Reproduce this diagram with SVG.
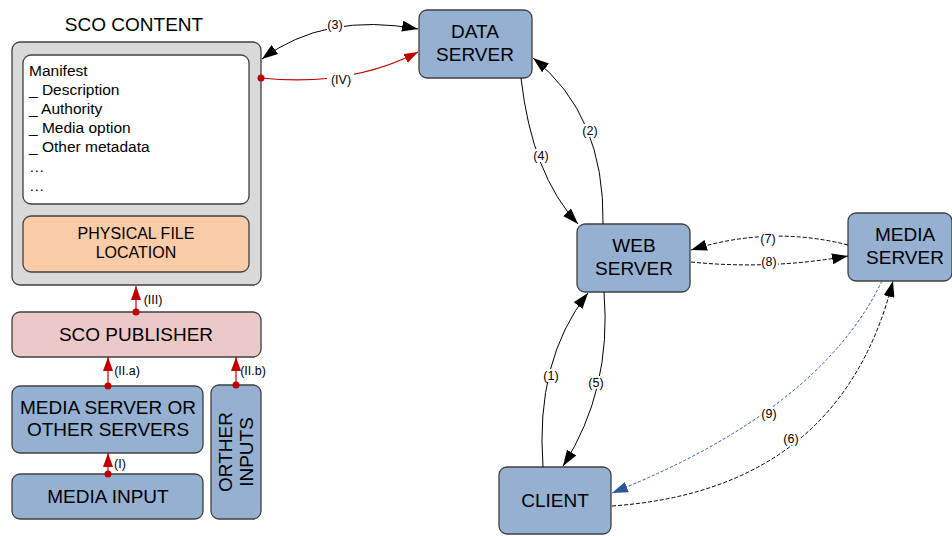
<svg xmlns="http://www.w3.org/2000/svg" width="952" height="536" viewBox="0 0 952 536">
<style>
text{font-family:"Liberation Sans",Arial,sans-serif;fill:#000}
.node{fill:#95b0d0;stroke:#404040;stroke-width:1.3}
.t18{font-size:19px;text-anchor:middle}
.t14{font-size:15.5px}
.lbl{font-size:12.5px;text-anchor:middle}
.c{fill:none;stroke:#000;stroke-width:1}
.d{stroke-dasharray:4 2}
.red{fill:none;stroke:#c00000;stroke-width:1.2}
.blue{fill:none;stroke:#2f5597;stroke-width:1;stroke-dasharray:3 2}
.bg{fill:#fff}
</style>
<defs>
<marker id="ab2" viewBox="0 0 10 10" refX="10" refY="5" markerWidth="16" markerHeight="11" markerUnits="userSpaceOnUse" orient="auto-start-reverse" preserveAspectRatio="none"><path d="M0,0 L10,5 L0,10 z" fill="#000"/></marker>
<marker id="ar" viewBox="0 0 10 10" refX="10" refY="5" markerWidth="14" markerHeight="10" markerUnits="userSpaceOnUse" orient="auto" preserveAspectRatio="none"><path d="M0,0 L10,5 L0,10 z" fill="#c00000"/></marker>
<marker id="abl" viewBox="0 0 10 10" refX="10" refY="5" markerWidth="16" markerHeight="11" markerUnits="userSpaceOnUse" orient="auto" preserveAspectRatio="none"><path d="M0,0 L10,5 L0,10 z" fill="#2f5597"/></marker>
</defs>

<g id="sco-content">
<text x="134" y="31" class="t18">SCO CONTENT</text>
<rect x="12" y="42" width="249" height="243" rx="8" fill="#d9d9d9" stroke="#404040" stroke-width="1.3"/>
<rect x="23" y="55" width="226" height="149" rx="8" fill="#fff" stroke="#404040" stroke-width="1.3"/>
<text class="t14" x="29" y="76">Manifest</text>
<text class="t14" x="29" y="95">_ Description</text>
<text class="t14" x="29" y="114">_ Authority</text>
<text class="t14" x="29" y="133">_ Media option</text>
<text class="t14" x="29" y="152">_ Other metadata</text>
<text class="t14" x="29" y="172">…</text>
<text class="t14" x="29" y="191">…</text>
</g>
<g id="physical-file">
<rect x="23" y="216" width="226" height="56" rx="8" fill="#f9cba7" stroke="#404040" stroke-width="1.3"/>
<text x="136" y="239" class="t18" style="font-size:16px">PHYSICAL FILE</text>
<text x="136" y="258" class="t18" style="font-size:16px">LOCATION</text>
</g>
<g id="sco-publisher">
<rect x="12" y="312" width="249" height="45" rx="8" fill="#ecc9c9" stroke="#404040" stroke-width="1.3"/>
<text x="136" y="341" class="t18">SCO PUBLISHER</text>
</g>
<g id="media-server-or-other">
<rect x="12" y="386" width="191" height="67" rx="8" class="node"/>
<text x="108" y="414" class="t18">MEDIA SERVER OR</text>
<text x="108" y="436" class="t18">OTHER SERVERS</text>
</g>
<g id="media-input">
<rect x="12" y="474" width="191" height="45" rx="8" class="node"/>
<text x="108" y="503" class="t18">MEDIA INPUT</text>
</g>
<g id="orther-inputs">
<rect x="211" y="385" width="50" height="134" rx="8" class="node"/>
<g transform="translate(236,452) rotate(-90)">
<text x="0" y="-4" class="t18">ORTHER</text>
<text x="0" y="17" class="t18">INPUTS</text>
</g>
</g>
<g id="data-server">
<rect x="419" y="10" width="113" height="68" rx="8" class="node"/>
<text x="475" y="38" class="t18">DATA</text>
<text x="475" y="61" class="t18">SERVER</text>
</g>
<g id="web-server">
<rect x="577" y="224" width="113" height="68" rx="8" class="node"/>
<text x="634" y="252" class="t18">WEB</text>
<text x="634" y="275" class="t18">SERVER</text>
</g>
<g id="media-server">
<rect x="848" y="213" width="104" height="68" rx="8" class="node"/>
<text x="905" y="241" class="t18">MEDIA</text>
<text x="905" y="264" class="t18">SERVER</text>
</g>
<g id="client">
<rect x="499" y="467" width="112" height="67" rx="8" class="node"/>
<text x="555" y="507" class="t18">CLIENT</text>
</g>

<g id="connectors">
<path class="red" d="M136,312 V286" marker-end="url(#ar)"/>
<circle cx="136" cy="312" r="3.5" fill="#c00000"/>
<text x="153" y="304" class="lbl">(III)</text>
<path class="red" d="M108,386 V357" marker-end="url(#ar)"/>
<circle cx="108" cy="386" r="3.5" fill="#c00000"/>
<text x="127" y="375" class="lbl">(II.a)</text>
<path class="red" d="M236,385 V357" marker-end="url(#ar)"/>
<circle cx="236" cy="385" r="3.5" fill="#c00000"/>
<text x="253" y="375" class="lbl">(II.b)</text>
<path class="red" d="M108,474 V453" marker-end="url(#ar)"/>
<circle cx="108" cy="474" r="3.5" fill="#c00000"/>
<text x="120" y="468" class="lbl">(I)</text>
<path class="red" d="M261,78 C300,82 360,82 418,52" marker-end="url(#ar)"/>
<circle cx="261" cy="78" r="3.5" fill="#c00000"/>
<rect x="327" y="73" width="27" height="13" class="bg"/>
<text x="341" y="84" class="lbl">(IV)</text>
<path class="c" d="M262,59 Q325,12 418,29" marker-start="url(#ab2)" marker-end="url(#ab2)"/>
<rect x="327" y="18" width="17" height="13" class="bg"/>
<text x="335" y="29" class="lbl">(3)</text>
<path class="c" d="M521,78 Q532,175 578,224" marker-end="url(#ab2)"/>
<rect x="533" y="149" width="17" height="13" class="bg"/>
<text x="541" y="160" class="lbl">(4)</text>
<path class="c" d="M603,224 Q605,115 533,58" marker-end="url(#ab2)"/>
<rect x="582" y="124" width="17" height="13" class="bg"/>
<text x="590" y="135" class="lbl">(2)</text>
<path class="c d" d="M848,245 Q770,225 691,250" marker-end="url(#ab2)"/>
<rect x="760" y="232" width="17" height="13" class="bg"/>
<text x="768" y="243" class="lbl">(7)</text>
<path class="c d" d="M691,262 Q770,270 848,256" marker-end="url(#ab2)"/>
<rect x="761" y="255" width="17" height="13" class="bg"/>
<text x="769" y="266" class="lbl">(8)</text>
<path class="c" d="M543,467 Q535,360 588,293" marker-end="url(#ab2)"/>
<rect x="543" y="369" width="17" height="13" class="bg"/>
<text x="551" y="380" class="lbl">(1)</text>
<path class="c" d="M604,292 Q612,390 563,466" marker-end="url(#ab2)"/>
<rect x="588" y="376" width="17" height="13" class="bg"/>
<text x="596" y="387" class="lbl">(5)</text>
<path class="blue" d="M882,281 Q820,410 612,493" marker-end="url(#abl)"/>
<rect x="761" y="407" width="17" height="13" class="bg"/>
<text x="769" y="418" class="lbl">(9)</text>
<path class="c d" d="M612,506 Q840,490 893,281" marker-end="url(#ab2)"/>
<rect x="783" y="432" width="17" height="13" class="bg"/>
<text x="791" y="443" class="lbl">(6)</text>
</g>
</svg>
